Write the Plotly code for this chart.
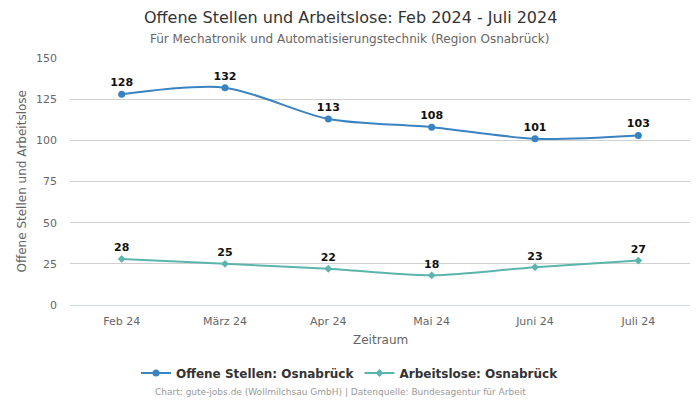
import plotly.graph_objects as go

months = ["Feb 24", "März 24", "Apr 24", "Mai 24", "Juni 24", "Juli 24"]
offene = [128, 132, 113, 108, 101, 103]
arbeitslose = [28, 25, 22, 18, 23, 27]
y_ticks = [0, 25, 50, 75, 100, 125, 150]

FONT = "DejaVu Sans"
L, R, T, B, W, H = 70, 10, 58, 95, 700, 400
PW, PH = W - L - R, H - T - B


def px_x(p):
    return (p - L) / PW


def px_y(p):
    return (H - B - p) / PH


fig = go.Figure()
fig.add_trace(go.Scatter(
    x=months, y=offene, name="Offene Stellen: Osnabrück",
    mode="lines+markers+text", line=dict(color="#3a83c1", width=2, shape="spline", smoothing=0.8),
    marker=dict(symbol="circle", size=7, color="#3a83c1"),
    text=[str(v) for v in offene], textposition="top center",
    textfont=dict(family=FONT, size=11, color="#111111", weight="bold"),
))
fig.add_trace(go.Scatter(
    x=months, y=arbeitslose, name="Arbeitslose: Osnabrück",
    mode="lines+markers+text", line=dict(color="#5bb5ad", width=2, shape="spline", smoothing=0.8),
    marker=dict(symbol="diamond", size=6, color="#5bb5ad"),
    text=[str(v) for v in arbeitslose], textposition="top center",
    textfont=dict(family=FONT, size=11, color="#111111", weight="bold"),
))
fig.update_layout(
    width=W, height=H,
    margin=dict(l=L, r=R, t=T, b=B, autoexpand=False),
    paper_bgcolor="white", plot_bgcolor="white",
    font=dict(family=FONT, color="#666666", size=11),
    xaxis=dict(
        showgrid=False, showline=True, linecolor="#ccd6eb", ticks="", tickfont=dict(size=11),
        range=[-0.5, 5.5], automargin=False, ticklabelstandoff=6,
    ),
    yaxis=dict(
        range=[0, 150], tickvals=y_ticks, gridcolor="#d0d0d0", zeroline=False,
        showline=False, tickfont=dict(size=11), automargin=False, ticklabelstandoff=12,
    ),
    legend=dict(
        orientation="h", x=0.5, xanchor="center", xref="container",
        y=1 - 373 / 400, yanchor="middle", yref="container",
        font=dict(family=FONT, size=12, color="#333333", weight="bold"),
    ),
    showlegend=True,
)
fig.add_annotation(
    text="Zeitraum",
    xref="paper", yref="paper", x=0.5, y=px_y(340), xanchor="center", yanchor="middle",
    showarrow=False, font=dict(family=FONT, size=12, color="#666666"),
)
fig.add_annotation(
    text="Offene Stellen und Arbeitslose",
    xref="paper", yref="paper", x=px_x(21), y=0.5, xanchor="center", yanchor="middle",
    textangle=-90, showarrow=False, font=dict(family=FONT, size=12, color="#666666"),
)
fig.add_annotation(
    text="Offene Stellen und Arbeitslose: Feb 2024 - Juli 2024",
    xref="paper", yref="paper", x=px_x(350), y=px_y(17), xanchor="center", yanchor="middle",
    showarrow=False, font=dict(family=FONT, size=16, color="#333333"),
)
fig.add_annotation(
    text="Für Mechatronik und Automatisierungstechnik (Region Osnabrück)",
    xref="paper", yref="paper", x=px_x(350), y=px_y(39), xanchor="center", yanchor="middle",
    showarrow=False, font=dict(family=FONT, size=12, color="#666666"),
)
fig.add_annotation(
    text="Chart: gute-jobs.de (Wollmilchsau GmbH) | Datenquelle: Bundesagentur für Arbeit",
    xref="paper", yref="paper", x=px_x(340), y=px_y(392), xanchor="center", yanchor="middle",
    showarrow=False, font=dict(family=FONT, size=9, color="#999999"),
)
fig.write_html("out.html", config={"displayModeBar": False},
               post_script="document.body.style.margin='0';")
